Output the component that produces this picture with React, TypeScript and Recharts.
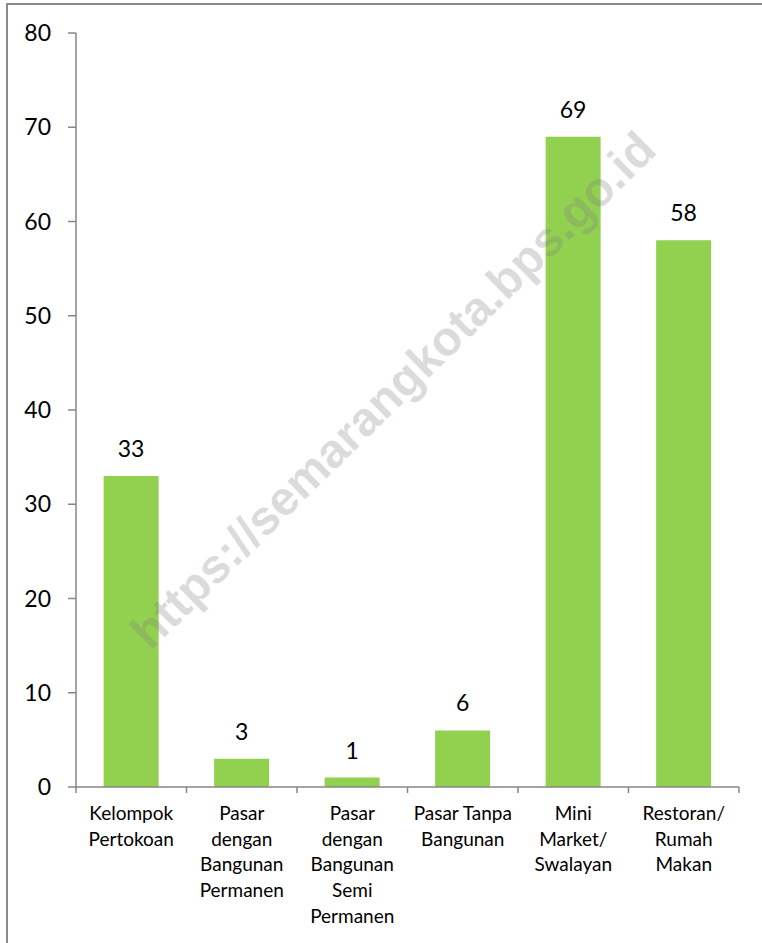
import React from "react";
import { BarChart, Bar, XAxis, YAxis, LabelList } from "recharts";

// category labels, line breaks as in the source chart
const categories = [
  "Kelompok\nPertokoan",
  "Pasar\ndengan\nBangunan\nPermanen",
  "Pasar\ndengan\nBangunan\nSemi\nPermanen",
  "Pasar Tanpa\nBangunan",
  "Mini\nMarket/\nSwalayan",
  "Restoran/\nRumah\nMakan",
];
const values = [33, 3, 1, 6, 69, 58];
const yTicks = [0, 10, 20, 30, 40, 50, 60, 70, 80];
const watermark = "https://semarangkota.bps.go.id";

const data = categories.map((name, i) => ({ name, value: values[i] }));

const W = 762;
const H = 943;
const MARGIN = { top: 33, right: 23, left: 0, bottom: 0 };
const Y_AXIS_W = 76;
const X_AXIS_H = 156;
const BAND = (W - Y_AXIS_W - MARGIN.right) / categories.length;

const AXIS = "#878787";
const GREEN = "#92D050";
const FONT = "Lato, 'Open Sans', sans-serif";

function CategoryTick(props: any) {
  const { x, y, payload, index } = props;
  const lines = String(payload.value).split("\n");
  const half = BAND / 2;
  return (
    <g>
      <line x1={x - half} y1={y} x2={x - half} y2={y + 6} stroke={AXIS} strokeWidth={1.5} />
      {index === categories.length - 1 && (
        <line x1={x + half} y1={y} x2={x + half} y2={y + 6} stroke={AXIS} strokeWidth={1.5} />
      )}
      <text x={x} y={y + 33} textAnchor="middle" fontSize={19} fill="#000" fontFamily={FONT}>
        {lines.map((l, i) => (
          <tspan key={i} x={x} dy={i === 0 ? 0 : 25.7}>
            {l}
          </tspan>
        ))}
      </text>
    </g>
  );
}

export default function App() {
  return (
    <div
      style={{
        position: "absolute",
        left: 0,
        top: 0,
        width: W,
        height: H,
        overflow: "hidden",
        background: "#fff",
        fontFamily: FONT,
      }}
    >
      {/* outer frame, runs past the right and bottom edges */}
      <div
        style={{
          position: "absolute",
          left: 6,
          top: 3,
          width: W + 20,
          height: H + 20,
          border: "2px solid #8a8a8a",
        }}
      />
      <div style={{ position: "absolute", left: 0, top: 0 }}>
        <BarChart width={W} height={H} data={data} margin={MARGIN} barCategoryGap="25%">
          <XAxis
            dataKey="name"
            height={X_AXIS_H}
            interval={0}
            axisLine={{ stroke: AXIS, strokeWidth: 1.5 }}
            tickLine={false}
            tickSize={0}
            tickMargin={0}
            tick={<CategoryTick />}
          />
          <YAxis
            width={Y_AXIS_W}
            domain={[0, 80]}
            ticks={yTicks}
            interval={0}
            axisLine={{ stroke: AXIS, strokeWidth: 1.5 }}
            tickLine={{ stroke: AXIS, strokeWidth: 1.5 }}
            tickSize={8}
            tickMargin={17}
            tick={{ fontSize: 23, fill: "#000", fontFamily: FONT }}
          />
          <Bar dataKey="value" fill={GREEN} isAnimationActive={false}>
            <LabelList
              dataKey="value"
              position="top"
              offset={19}
              fill="#000"
              fontSize={23}
              fontFamily={FONT}
            />
          </Bar>
        </BarChart>
      </div>
      {/* watermark */}
      <svg
        width={W}
        height={H}
        style={{ position: "absolute", left: 0, top: 0, pointerEvents: "none" }}
      >
        <text
          x={393}
          y={390}
          transform="rotate(-44.5 393 390)"
          textAnchor="middle"
          dominantBaseline="central"
          fontSize={48}
          fontWeight="bold"
          fontFamily="'Liberation Sans', Arial, sans-serif"
          fill="#7f7f7f"
          fillOpacity={0.28}
        >
          {watermark}
        </text>
      </svg>
    </div>
  );
}
